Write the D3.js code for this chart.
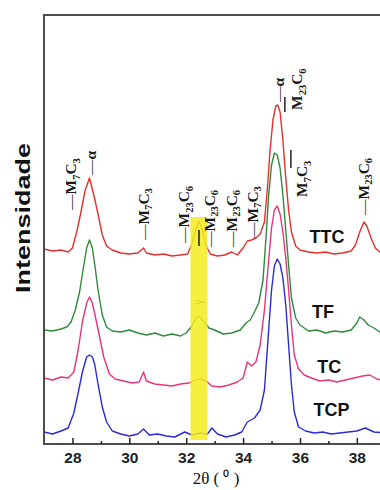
<!DOCTYPE html>
<html>
<head>
<meta charset="utf-8">
<script src="https://cdn.jsdelivr.net/npm/d3@7"></script>
<style>
  html, body { margin: 0; padding: 0; background: #fff; }
  svg { display: block; }
</style>
</head>
<body>
<svg id="chart" width="380" height="490"></svg>
<script>
// XRD patterns, [2θ (deg), intensity (a.u., stacked)]
const ttc = [[27.0,195],[27.3,193],[27.6,194],[27.85,192],[28.0,196],[28.15,212],[28.3,232],[28.45,254],[28.6,266],[28.75,249],
  [28.9,230],[29.05,209],[29.2,198],[29.4,194],[29.7,191],[30.0,190],[30.3,191],[30.5,196],[30.6,191],[30.9,189],
  [31.2,190],[31.5,188],[31.8,189],[32.05,190],[32.2,200],[32.35,216],[32.45,223],[32.55,216],[32.7,198],[32.85,190],
  [33.1,188],[33.35,189],[33.6,192],[33.8,189],[34.0,196],[34.15,203],[34.3,204],[34.45,206],[34.6,210],[34.75,222],
  [34.85,254],[34.95,294],[35.05,324],[35.15,338],[35.22,339],[35.3,332],[35.4,304],[35.5,266],[35.6,234],[35.7,212],
  [35.85,198],[36.0,194],[36.3,192],[36.6,191],[36.9,192],[37.2,190],[37.5,191],[37.8,193],[37.95,199],[38.1,212],
  [38.25,222],[38.35,218],[38.5,206],[38.65,196],[38.8,192],[39.0,191]];

const tf = [[27.0,114],[27.3,113],[27.6,115],[27.8,117],[27.95,122],[28.1,134],[28.25,152],[28.4,179],[28.5,196],[28.6,204],
  [28.7,196],[28.8,176],[28.9,154],[29.05,129],[29.2,117],[29.4,113],[29.7,112],[30.0,114],[30.3,111],[30.6,109],
  [30.9,111],[31.2,108],[31.5,110],[31.8,108],[32.0,111],[32.2,118],[32.35,126],[32.45,128],[32.6,123],[32.8,116],
  [33.0,114],[33.3,110],[33.6,111],[33.9,114],[34.1,121],[34.25,124],[34.4,132],[34.55,141],[34.7,164],[34.8,204],
  [34.9,249],[35.0,279],[35.1,291],[35.2,289],[35.3,276],[35.4,249],[35.5,214],[35.6,179],[35.7,146],[35.85,126],
  [36.0,119],[36.3,113],[36.6,114],[36.9,111],[37.2,113],[37.5,112],[37.8,114],[38.0,121],[38.1,127],[38.25,124],
  [38.4,119],[38.6,116],[38.8,112],[39.0,111]];

const tc = [[27.0,66],[27.3,64],[27.6,67],[27.85,66],[28.05,72],[28.2,94],[28.35,122],[28.5,141],[28.6,147],[28.7,141],
  [28.8,128],[28.95,108],[29.1,87],[29.3,70],[29.5,65],[29.8,63],[30.1,61],[30.35,62],[30.5,72],[30.6,63],
  [30.9,60],[31.2,59],[31.5,58],[31.8,60],[32.1,61],[32.3,64],[32.5,65],[32.7,63],[32.9,58],[33.2,57],
  [33.5,59],[33.8,62],[34.0,66],[34.15,82],[34.3,78],[34.45,82],[34.6,99],[34.75,134],[34.9,184],[35.0,216],
  [35.1,234],[35.2,238],[35.3,230],[35.4,212],[35.5,186],[35.6,154],[35.7,119],[35.8,89],[35.95,75],[36.15,69],
  [36.4,66],[36.7,63],[37.0,64],[37.3,62],[37.6,64],[37.9,66],[38.2,68],[38.45,69],[38.7,65],[39.0,63]];

const tcp = [[27.0,12],[27.3,10],[27.6,13],[27.85,16],[28.05,31],[28.2,51],[28.35,72],[28.5,87],[28.6,89],[28.7,87],
  [28.78,80],[28.9,60],[29.05,37],[29.2,22],[29.4,13],[29.7,10],[30.0,8],[30.3,10],[30.5,15],[30.7,9],
  [31.0,10],[31.3,8],[31.6,7],[31.95,12],[32.2,9],[32.5,11],[32.75,10],[32.9,16],[33.1,10],[33.4,7],
  [33.7,9],[33.95,12],[34.15,22],[34.4,26],[34.6,34],[34.75,54],[34.9,114],[35.0,154],[35.1,178],[35.2,185],
  [35.3,180],[35.4,166],[35.5,139],[35.6,99],[35.7,59],[35.8,32],[35.95,17],[36.2,13],[36.5,11],[36.8,12],
  [37.1,10],[37.4,11],[37.7,12],[38.0,13],[38.3,16],[38.6,12],[39.0,11]];

const seriesNames = ["TTC", "TF", "TC", "TCP"];
const seriesData = [ttc, tf, tc, tcp];
const seriesColors = ["#e3302c", "#2f8a3c", "#e6347e", "#2b2bd6"];
// where each series name sits: [2θ, intensity]
const seriesLabelPos = [[36.95, 207], [36.81, 132], [37.03, 77], [37.11, 34]];

// phase markers: 2θ, intensity at the start of the label, phase, leading dash
const phaseMarks = [
  { theta: 27.94, level: 234, phase: "M_7C_3", dash: true },
  { theta: 28.64, level: 269, phase: "α", dash: true },
  { theta: 30.50, level: 204, phase: "M_7C_3", dash: true },
  { theta: 31.92, level: 201, phase: "M_23C_6", dash: true },
  { theta: 32.82, level: 197, phase: "M_23C_6", dash: true },
  { theta: 33.58, level: 197, phase: "M_23C_6", dash: true },
  { theta: 34.33, level: 206, phase: "M_7C_3", dash: true },
  { theta: 35.23, level: 342, phase: "α", dash: true },
  { theta: 35.89, level: 334, phase: "M_23C_6", dash: false },
  { theta: 36.07, level: 247, phase: "M_7C_3", dash: false },
  { theta: 38.22, level: 229, phase: "M_23C_6", dash: true }
];
// short leader bars: 2θ, from, to
const leaderBars = [[35.47, 332, 347], [35.68, 276, 294], [32.45, 198, 214]];

// γ-phase band
const gammaBand = [32.15, 32.75];
const gammaBandLevels = [4, 227];
const gammaLabel = { theta: 32.42, level: 142, text: "γ" };

const majorTicks = [28, 30, 32, 34, 36, 38];
const minorTicks = [29, 31, 33, 35, 37];
const xTitle = "2θ ( ⁰ )";
const yTitle = "Intensidade";

const svg = d3.select("#chart");
const x = d3.scaleLinear().domain([27, 39]).range([44, 385.3]);
const y = d3.scaleLinear().domain([0, 429]).range([444, 15]);

svg.append("defs").append("clipPath").attr("id", "plot")
  .append("rect").attr("x", x(27)).attr("y", y(429)).attr("width", x(39) - x(27)).attr("height", y(0) - y(429));

const line = d3.line().x(d => x(d[0])).y(d => y(d[1]));

const plot = svg.append("g").attr("clip-path", "url(#plot)");

// γ label (sits under the band)
plot.append("text")
  .attr("transform", `translate(${x(gammaLabel.theta)},${y(gammaLabel.level)}) rotate(-90)`)
  .attr("text-anchor", "middle").attr("dy", "0.35em")
  .attr("font-family", "'Liberation Serif', 'Times New Roman', serif")
  .attr("font-size", 12).attr("fill", "#333")
  .text(gammaLabel.text);

seriesData.forEach((s, i) => {
  plot.append("path").datum(s)
    .attr("d", line)
    .attr("fill", "none")
    .attr("stroke", seriesColors[i])
    .attr("stroke-width", 1.4)
    .attr("stroke-linejoin", "round");
});

plot.append("rect")
  .attr("x", x(gammaBand[0])).attr("width", x(gammaBand[1]) - x(gammaBand[0]))
  .attr("y", y(gammaBandLevels[1])).attr("height", y(gammaBandLevels[0]) - y(gammaBandLevels[1]))
  .attr("fill", "#f2ec1e").attr("opacity", 0.85);

// phase labels
const serif = "'Liberation Serif', 'Times New Roman', serif";
phaseMarks.forEach(m => {
  const t = svg.append("text")
    .attr("transform", `translate(${x(m.theta)},${y(m.level)}) rotate(-90)`)
    .attr("text-anchor", "start").attr("dy", "0.35em")
    .attr("font-family", serif).attr("font-size", 15.5)
    .attr("font-weight", "bold")
    .attr("fill", "#1a1a1a");
  if (m.dash) t.append("tspan").attr("font-weight", "normal").text("—");
  // split "M_7C_3" into normal / subscript pieces
  const parts = m.phase.split("_");
  parts.forEach((p, k) => {
    if (k === 0) { t.append("tspan").text(p); return; }
    const digits = p.match(/^\d+/)[0];
    const rest = p.slice(digits.length);
    t.append("tspan").attr("font-size", 10.5).attr("dy", 3.5).text(digits);
    if (rest) t.append("tspan").attr("dy", -3.5).text(rest);
  });
});

leaderBars.forEach(b => {
  svg.append("line")
    .attr("x1", x(b[0])).attr("x2", x(b[0]))
    .attr("y1", y(b[1])).attr("y2", y(b[2]))
    .attr("stroke", "#111").attr("stroke-width", 1.4);
});

// series names
seriesNames.forEach((n, i) => {
  svg.append("text")
    .attr("x", x(seriesLabelPos[i][0])).attr("y", y(seriesLabelPos[i][1]))
    .attr("text-anchor", "middle").attr("dy", "0.36em")
    .attr("font-family", "'Liberation Sans', Arial, sans-serif")
    .attr("font-weight", "bold").attr("font-size", 18)
    .attr("fill", "#111")
    .text(n);
});

// frame
svg.append("rect")
  .attr("x", x(27)).attr("y", y(429)).attr("width", x(39) - x(27)).attr("height", y(0) - y(429))
  .attr("fill", "none").attr("stroke", "#3a3a3a").attr("stroke-width", 1.8);

// axes with inward ticks
const xAxis = svg.append("g").attr("transform", `translate(0,${y(0)})`)
  .call(d3.axisBottom(x).tickValues(majorTicks).tickSize(-6).tickPadding(8).tickFormat(d3.format("d")));
xAxis.select(".domain").remove();
xAxis.selectAll("line").attr("stroke", "#222").attr("stroke-width", 1.5);
xAxis.selectAll("text")
  .attr("font-family", "'Liberation Sans', Arial, sans-serif")
  .attr("font-weight", "bold").attr("font-size", 15.5).attr("fill", "#222");

const xMinor = svg.append("g").attr("transform", `translate(0,${y(0)})`)
  .call(d3.axisBottom(x).tickValues(minorTicks).tickSize(-3).tickFormat(""));
xMinor.select(".domain").remove();
xMinor.selectAll("line").attr("stroke", "#222").attr("stroke-width", 1.5);

// axis titles
svg.append("text")
  .attr("x", 216).attr("y", 484)
  .attr("text-anchor", "middle")
  .attr("font-family", serif).attr("font-size", 17).attr("fill", "#111")
  .text(xTitle);

svg.append("text")
  .attr("transform", "translate(30,218) rotate(-90)")
  .attr("text-anchor", "middle")
  .attr("font-family", "'Liberation Sans', Arial, sans-serif")
  .attr("font-weight", "bold").attr("font-size", 21).attr("fill", "#111")
  .attr("textLength", 150).attr("lengthAdjust", "spacingAndGlyphs")
  .text(yTitle);
</script>
</body>
</html>
